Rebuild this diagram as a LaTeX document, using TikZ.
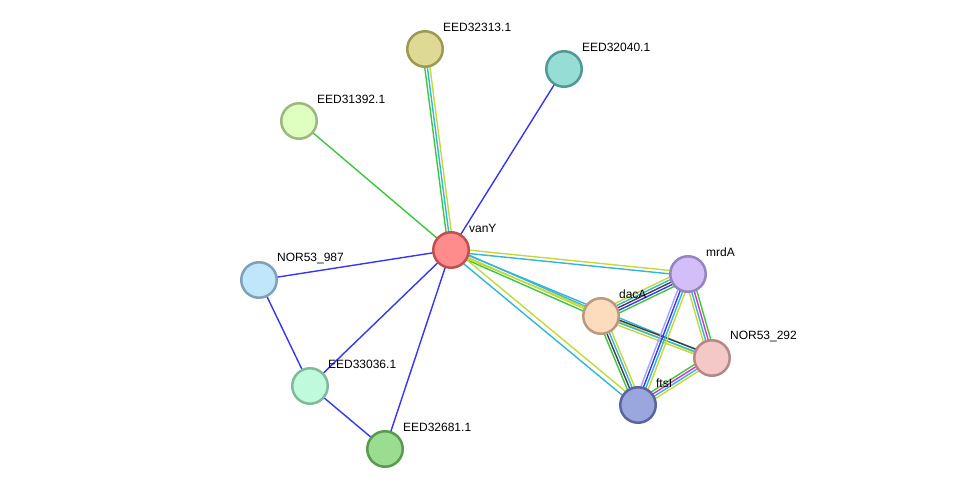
\documentclass[tikz,border=0pt]{standalone}
\usepackage{fontspec}
\setmainfont{Liberation Sans}
\usetikzlibrary{calc,backgrounds}
\definecolor{eg}{HTML}{3EC63E}
\definecolor{eb}{HTML}{3636F0}
\definecolor{ec}{HTML}{33B5D8}
\definecolor{ey}{HTML}{C3D93A}
\definecolor{ek}{HTML}{404040}
\definecolor{em}{HTML}{D432D4}
\definecolor{el}{HTML}{A5A5FF}
\tikzset{
  prot/.style={circle, minimum size=35.5pt, inner sep=0pt, line width=2.5pt},
  lbl/.style={font=\fontsize{12}{14}\selectfont, anchor=west, inner sep=0pt, label distance=0pt, xshift=4.5pt, yshift=8pt},
  edge/.style={line width=1.4pt},
}
\newcommand\medge[3]{%
  \foreach \c/\o in {#3}{%
    \draw[edge,\c] ($(#1)!\o pt!90:(#2)$) -- ($(#2)!\o pt!-90:(#1)$);
  }%
}
\begin{document}
\begin{tikzpicture}[x=1pt,y=-1pt]
\useasboundingbox (0,0) rectangle (975,495);
\node[prot, fill={rgb,255:red,255;green,140;blue,140}, draw={rgb,255:red,192;green,80;blue,80}, label={[lbl]north east:vanY}] (vanY) at (451,250) {};
\node[prot, fill={rgb,255:red,222;green,218;blue,149}, draw={rgb,255:red,154;green,154;blue,80}, label={[lbl]north east:EED32313.1}] (e313) at (425,49) {};
\node[prot, fill={rgb,255:red,150;green,221;blue,214}, draw={rgb,255:red,79;green,154;blue,148}, label={[lbl]north east:EED32040.1}] (e040) at (564,69) {};
\node[prot, fill={rgb,255:red,223;green,255;blue,192}, draw={rgb,255:red,155;green,184;blue,128}, label={[lbl]north east:EED31392.1}] (e392) at (299,121) {};
\node[prot, fill={rgb,255:red,192;green,230;blue,252}, draw={rgb,255:red,127;green,160;blue,186}, label={[lbl]north east:NOR53\_987}] (n987) at (259,280) {};
\node[prot, fill={rgb,255:red,192;green,250;blue,220}, draw={rgb,255:red,128;green,186;blue,154}, label={[lbl]north east:EED33036.1}] (e036) at (310,386) {};
\node[prot, fill={rgb,255:red,154;green,220;blue,144}, draw={rgb,255:red,90;green,154;blue,80}, label={[lbl]north east:EED32681.1}] (e681) at (385,449) {};
\node[prot, fill={rgb,255:red,212;green,190;blue,248}, draw={rgb,255:red,148;green,132;blue,192}, label={[lbl]north east:mrdA}] (mrdA) at (688,274) {};
\node[prot, fill={rgb,255:red,253;green,220;blue,189}, draw={rgb,255:red,186;green,154;blue,126}, label={[lbl]north east:dacA}] (dacA) at (601,316) {};
\node[prot, fill={rgb,255:red,245;green,200;blue,200}, draw={rgb,255:red,180;green,136;blue,136}, label={[lbl]north east:NOR53\_292}] (n292) at (712,358) {};
\node[prot, fill={rgb,255:red,154;green,166;blue,222}, draw={rgb,255:red,90;green,100;blue,160}, label={[lbl]north east:ftsI}] (ftsI) at (638,405) {};
\begin{pgfonlayer}{background}
\medge{vanY}{e313}{eg/2.6, ec/0, ey/-2.6}
\medge{vanY}{e040}{eb/0}
\medge{vanY}{e392}{eg/0}
\medge{vanY}{n987}{eb/0}
\medge{vanY}{e036}{eb/0}
\medge{vanY}{e681}{eb/0}
\medge{n987}{e036}{eb/0}
\medge{e036}{e681}{eb/0}
\medge{vanY}{mrdA}{ey/1.7, ec/-1.7}
\medge{vanY}{dacA}{ec/2.6, ey/0, eg/-2.6}
\medge{vanY}{n292}{ec/1.6, ey/-1.6}
\medge{vanY}{ftsI}{ey/2.5, ec/-2.5}
\medge{dacA}{mrdA}{eg/-5.2, eb/-2.6, ek/0, ec/2.6, ey/5.2}
\medge{dacA}{n292}{ek/2.6, ec/0, ey/-2.6}
\medge{dacA}{ftsI}{eg/-3.9, ek/-1.3, ec/1.3, ey/3.9}
\medge{mrdA}{ftsI}{el/-3.9, eb/-1.3, ec/1.3, ey/3.9}
\medge{mrdA}{n292}{ey/-3.9, ec/-1.3, em/1.3, eg/3.9}
\medge{ftsI}{n292}{eg/3.9, em/1.3, ec/-1.3, ey/-3.9}
\end{pgfonlayer}
\end{tikzpicture}
\end{document}
